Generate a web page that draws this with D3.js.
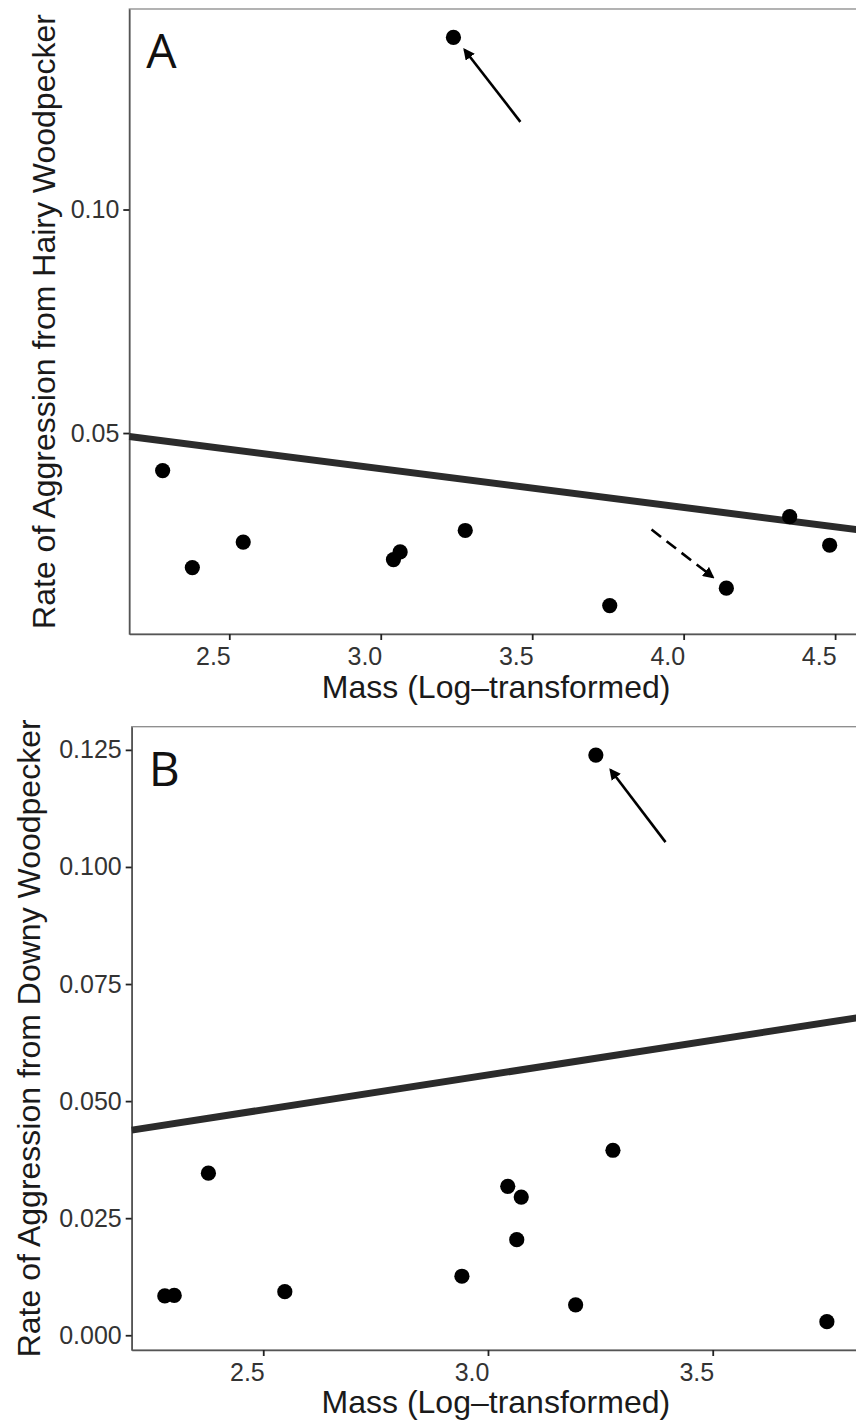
<!DOCTYPE html>
<html>
<head>
<meta charset="utf-8">
<script src="https://cdnjs.cloudflare.com/ajax/libs/d3/7.8.5/d3.min.js"></script>
<style>
  body { margin: 0; background: #fff; }
  svg { display: block; }
  .tick text { font-family: "Liberation Sans", Arial, sans-serif; font-size: 25px; fill: #333; }
  .ttl { font-family: "Liberation Sans", Arial, sans-serif; font-size: 32px; fill: #1a1a1a; }
  .panel-lab { font-family: "Open Sans", sans-serif; font-size: 48px; fill: #111; }
</style>
</head>
<body>
<svg width="856" height="1427"></svg>
<script>
// panel A - hairy woodpecker
const massA = [2.280, 2.378, 2.546, 3.042, 3.064, 3.279, 3.240, 3.756, 4.141, 4.350, 4.482];
const hairyRate = [0.0416, 0.0199, 0.0256, 0.0217, 0.0234, 0.0282, 0.1385, 0.0114, 0.0153, 0.0313, 0.0249];
const fitA = [0.0680, -0.00866]; // intercept, slope
const xTicksA = [2.5, 3.0, 3.5, 4.0, 4.5];
const yTicksA = [0.05, 0.10];
const arrowsA = [
    {x1: 3.461, y1: 0.1196, x2: 3.277, y2: 0.1357, dashed: false},
    {x1: 3.894, y1: 0.0284, x2: 4.096, y2: 0.0178, dashed: true}
];

// panel B - downy woodpecker
const massB = [2.281, 2.302, 2.378, 2.548, 2.942, 3.044, 3.064, 3.074, 3.195, 3.240, 3.278, 3.754];
const downyRate = [0.0084, 0.0085, 0.0346, 0.0093, 0.0126, 0.0318, 0.0204, 0.0295, 0.0065, 0.1239, 0.0395, 0.0029];
const fitB = [0.0110, 0.01486];
const xTicksB = [2.5, 3.0, 3.5];
const yTicksB = [0.000, 0.025, 0.050, 0.075, 0.100, 0.125];
const arrowsB = [
    {x1: 3.395, y1: 0.1053, x2: 3.273, y2: 0.1207, dashed: false}
];

const svg = d3.select("svg");

svg.append("defs").append("marker")
    .attr("id", "head")
    .attr("viewBox", "0 0 10 10")
    .attr("refX", 8).attr("refY", 5)
    .attr("markerWidth", 4.4).attr("markerHeight", 4.4)
    .attr("markerUnits", "strokeWidth")
    .attr("orient", "auto")
    .append("path")
    .attr("d", "M0,0 L10,5 L0,10 z")
    .attr("fill", "#000");

// ggplot style 5% padding around the data
function padded(vals) {
    var e = d3.extent(vals);
    var p = (e[1] - e[0]) * 0.05;
    return [e[0] - p, e[1] + p];
}

function drawPanel(opt) {
    var x = d3.scaleLinear().domain(padded(opt.xs)).range([opt.left, opt.right]);
    var y = d3.scaleLinear().domain(padded(opt.ys)).range([opt.bottom, opt.top]);
    var g = svg.append("g");

    g.append("rect")
        .attr("x", opt.left).attr("y", opt.top)
        .attr("width", opt.right - opt.left).attr("height", opt.bottom - opt.top)
        .attr("fill", "none").attr("stroke", "#8a8a8a").attr("stroke-width", 1.3);

    var xa = g.append("g")
        .attr("transform", "translate(0," + opt.bottom + ")")
        .call(d3.axisBottom(x).tickValues(opt.xTicks).tickFormat(d3.format(".1f"))
            .tickSize(6).tickSizeOuter(0).tickPadding(7));
    var ya = g.append("g")
        .attr("transform", "translate(" + opt.left + ",0)")
        .call(d3.axisLeft(y).tickValues(opt.yTicks).tickFormat(d3.format(opt.yFmt))
            .tickSize(6).tickSizeOuter(0).tickPadding(4));
    // the x labels sit to the left of their ticks in the original
    xa.selectAll(".tick text").attr("text-anchor", "end").attr("dx", "1");
    xa.select(".domain").attr("stroke", "#555").attr("stroke-width", 1.6);
    ya.select(".domain").attr("stroke", "#555").attr("stroke-width", 1.6);
    g.selectAll(".tick line").attr("stroke", "#222").attr("stroke-width", 1.8);

    // fitted line across the panel
    var xd = x.domain();
    g.append("line")
        .attr("x1", x(xd[0])).attr("y1", y(opt.fit[0] + opt.fit[1] * xd[0]))
        .attr("x2", x(xd[1])).attr("y2", y(opt.fit[0] + opt.fit[1] * xd[1]))
        .attr("stroke", "#2b2b2b").attr("stroke-width", 7);

    g.selectAll(".pt")
        .data(opt.xs.map(function(d, i) { return [d, opt.ys[i]]; }))
        .enter().append("circle")
        .attr("class", "pt")
        .attr("cx", function(d) { return x(d[0]); })
        .attr("cy", function(d) { return y(d[1]); })
        .attr("r", 7.6)
        .attr("fill", "#000");

    g.selectAll(".arr")
        .data(opt.arrows)
        .enter().append("line")
        .attr("class", "arr")
        .attr("x1", function(d) { return x(d.x1); })
        .attr("y1", function(d) { return y(d.y1); })
        .attr("x2", function(d) { return x(d.x2); })
        .attr("y2", function(d) { return y(d.y2); })
        .attr("stroke", "#000").attr("stroke-width", 2.6)
        .attr("stroke-dasharray", function(d) { return d.dashed ? "12,7" : null; })
        .attr("marker-end", "url(#head)");

    g.append("text")
        .attr("class", "panel-lab")
        .attr("x", opt.left + 17).attr("y", opt.top + 59)
        .text(opt.label);

    g.append("text")
        .attr("class", "ttl")
        .attr("text-anchor", "middle")
        .attr("x", (opt.left + opt.right) / 2).attr("y", opt.xTitleY)
        .text("Mass (Log\u2013transformed)");

    g.append("text")
        .attr("class", "ttl")
        .attr("text-anchor", "middle")
        .attr("transform", "translate(" + opt.yTitleX + "," + ((opt.top + opt.bottom) / 2) + ") rotate(-90)")
        .text(opt.yTitle);
}

drawPanel({
    xs: massA, ys: hairyRate, fit: fitA, arrows: arrowsA,
    xTicks: xTicksA, yTicks: yTicksA, yFmt: ".2f",
    left: 129.3, right: 863, top: 9, bottom: 634,
    label: "A", xTitleY: 698, yTitleX: 55,
    yTitle: "Rate of Aggression from Hairy Woodpecker"
});

drawPanel({
    xs: massB, ys: downyRate, fit: fitB, arrows: arrowsB,
    xTicks: xTicksB, yTicks: yTicksB, yFmt: ".3f",
    left: 131.7, right: 860, top: 726.7, bottom: 1350,
    label: "B", xTitleY: 1413, yTitleX: 40,
    yTitle: "Rate of Aggression from Downy Woodpecker"
});
</script>
</body>
</html>
